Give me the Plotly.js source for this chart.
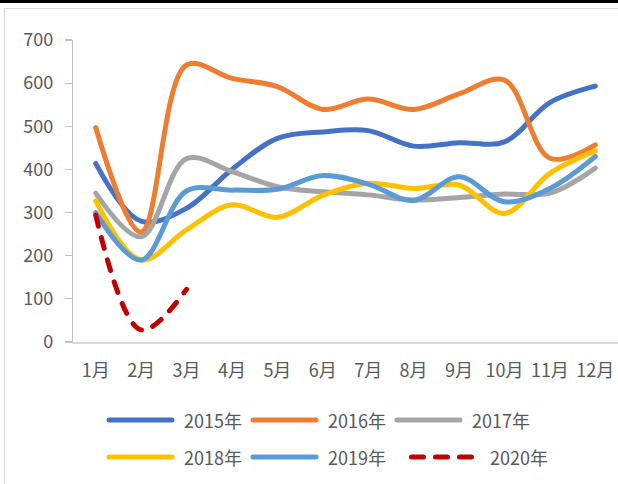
<!DOCTYPE html>
<html><head><meta charset="utf-8">
<script src="https://cdn.plot.ly/plotly-3.0.1.min.js"></script>
<style>
html,body{margin:0;padding:0;background:#fff;}
#wrap{position:relative;width:618px;height:484px;overflow:hidden;}
#chart{width:618px;height:484px;}
#topbar{position:absolute;left:0;top:0;width:618px;height:3px;background:#000;}
#frame{position:absolute;left:4px;top:8px;width:620px;height:480px;border-top:1px solid #d9d9d9;border-left:1px solid #d9d9d9;pointer-events:none;}
#chart path.js-line, #chart .shapelayer path{stroke-linecap:round !important;stroke-linejoin:round !important;}
</style></head>
<body><div id="wrap"><div id="chart"></div><div id="topbar"></div><div id="frame"></div></div>
<script>
const months = ['1月','2月','3月','4月','5月','6月','7月','8月','9月','10月','11月','12月'];
const seriesNames = ['2015年','2016年','2017年','2018年','2019年','2020年'];
const v2015 = [414, 280, 310, 400, 472, 487, 490, 454, 462, 464, 555, 593];
const v2016 = [497, 255, 642, 611, 592, 539, 563, 539, 575, 607, 426, 457];
const v2017 = [345, 244, 425, 395, 360, 348, 341, 329, 335, 343, 345, 403];
const v2018 = [327, 190, 260, 318, 289, 340, 368, 356, 364, 298, 391, 443];
const v2019 = [300, 190, 350, 352, 354, 386, 366, 328, 383, 325, 356, 430];
const v2020 = [294, 28, 122];
const colors = ['#4472C4','#ED7D31','#A5A5A5','#FFC000','#5B9BD5','#C00000'];
const dashes = ['solid','solid','solid','solid','solid','11px,12px'];

const allVals = [v2015, v2016, v2017, v2018, v2019, v2020];
const FONT = '"Noto Sans CJK SC", "Noto Sans", sans-serif';
const TXT = '#595959';

const traces = allVals.map((vals, i) => ({
  type: 'scatter', mode: 'lines',
  x: months.slice(0, vals.length), y: vals,
  name: seriesNames[i],
  line: {color: colors[i], width: 5, shape: 'spline', smoothing: 1, dash: dashes[i]},
  showlegend: false, hoverinfo: 'skip'
}));

// plot area geometry (px)
const L = 73, R = 0, T = 40, B = 142, W = 618, H = 484;
const pw = W - L - R, ph = H - T - B;
const px2x = px => (px - L) / pw;
const py2y = py => (H - B - py) / ph;

const shapes = [], annotations = [];
seriesNames.forEach((nm, i) => {
  const row = Math.floor(i / 3), col = i % 3;
  const dashed = dashes[i] !== 'solid';
  let x0 = 109 + col * 144, x1 = x0 + 63;
  let tx = x1 + 10;
  if (dashed) { x0 = 411.5; x1 = 472.5; tx = 488; }
  const y = 420 + row * 37;
  shapes.push({type: 'line', xref: 'paper', yref: 'paper',
    x0: px2x(x0), x1: px2x(x1), y0: py2y(y), y1: py2y(y),
    line: {color: colors[i], width: 5, dash: dashed ? '12px,12px' : 'solid'}});
  annotations.push({xref: 'paper', yref: 'paper', x: px2x(tx), y: py2y(y),
    xanchor: 'left', yanchor: 'middle', showarrow: false, text: nm,
    font: {family: FONT, size: 18, color: TXT}});
});

const layout = {
  width: W, height: H,
  margin: {l: L, r: R, t: T, b: B, pad: 0},
  paper_bgcolor: 'rgba(0,0,0,0)', plot_bgcolor: 'rgba(0,0,0,0)',
  showlegend: false,
  font: {family: FONT, size: 18, color: TXT},
  xaxis: {
    type: 'category', categoryarray: months, range: [-0.5, 11.5],
    showline: true, linecolor: '#d9d9d9', linewidth: 1.5,
    showgrid: false, zeroline: false, ticks: '', ticklabelstandoff: 12,
    tickfont: {family: FONT, size: 18, color: TXT}, fixedrange: true
  },
  yaxis: {
    range: [0, 700], dtick: 100, tick0: 0,
    showline: true, linecolor: '#bfbfbf', linewidth: 1.2,
    ticks: 'outside', ticklen: 7, tickcolor: '#bfbfbf', tickwidth: 1.2,
    showgrid: false, zeroline: false, ticklabelstandoff: 8,
    tickfont: {family: FONT, size: 18, color: TXT}, fixedrange: true
  },
  shapes: shapes, annotations: annotations
};

Plotly.newPlot('chart', traces, layout, {displayModeBar: false, staticPlot: true});
</script></body></html>
